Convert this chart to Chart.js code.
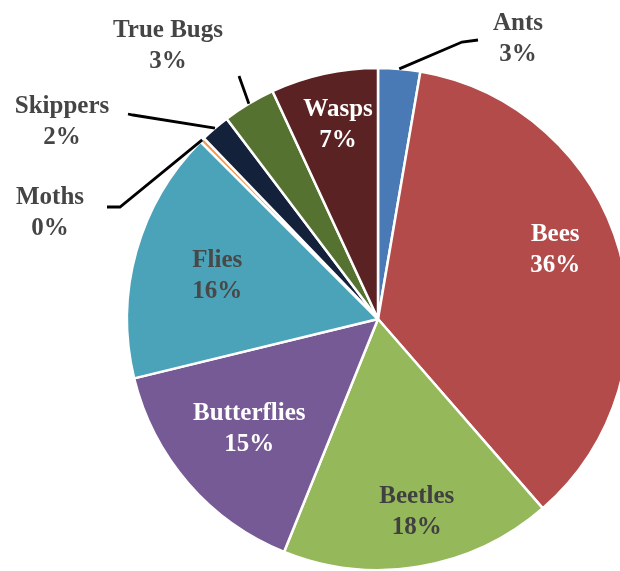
<!DOCTYPE html>
<html>
<head>
<meta charset="utf-8">
<title>Pollinator visits</title>
<script src="https://cdn.jsdelivr.net/npm/chart.js@4.4.1/dist/chart.umd.min.js"></script>
<style>
  html, body { margin: 0; padding: 0; width: 620px; height: 571px; overflow: hidden; background: #fff; }
  /* pie is larger than the page, so the canvas overhangs it */
  #wrap { position: absolute; left: -2px; top: -61px; width: 760px; height: 760px; }
</style>
</head>
<body>
<div id="wrap"><canvas id="pieChart" width="760" height="760"></canvas></div>
<script>
// visit share per insect group (%)
const categories = ['Ants', 'Bees', 'Beetles', 'Butterflies', 'Flies', 'Moths', 'Skippers', 'True Bugs', 'Wasps'];
const shares = [2.7, 35.9, 17.5, 15.1, 16.3, 0.3, 1.9, 3.4, 6.9];

const sliceColors = ['#4a7ab5', '#b34b4b', '#95b85a', '#765a95', '#4aa3b8', '#f79646', '#14213a', '#557230', '#5a2222'];
const labelColors = ['#454545', '#ffffff', '#404040', '#ffffff', '#484848', '#454545', '#454545', '#454545', '#ffffff'];

// labels inside a slice: fraction of the radius, and a small turn (deg) off the mid angle
const insideLabels = {
  'Bees':        { r: 0.757, turn: -5.5 },
  'Beetles':     { r: 0.785, turn: -1.8 },
  'Butterflies': { r: 0.675, turn: 0.3 },
  'Flies':       { r: 0.663, turn: -0.7 },
  'Wasps':       { r: 0.79,  turn: 0.8 }
};

// callouts for thin slices, offsets from the pie centre
const outsideLabels = {
  'Ants':      { text: [140, -280],  elbow: [84, -277],   end: [100, -279] },
  'True Bugs': { text: [-210, -273], elbow: [-139, -243], end: [-139, -243] },
  'Skippers':  { text: [-316, -197], elbow: [-245, -204], end: [-250, -205] },
  'Moths':     { text: [-328, -106], elbow: [-258, -112], end: [-271, -112] }
};

const sliceLabels = {
  id: 'sliceLabels',
  afterDatasetsDraw(chart) {
    const ctx = chart.ctx;
    const meta = chart.getDatasetMeta(0);
    const total = shares.reduce((a, b) => a + b, 0);
    ctx.save();
    ctx.font = 'bold 25px "Liberation Serif", "Times New Roman", serif';
    ctx.textAlign = 'center';
    ctx.textBaseline = 'middle';
    meta.data.forEach((arc, i) => {
      const p = arc.getProps(['x', 'y', 'startAngle', 'endAngle', 'outerRadius'], true);
      const mid = (p.startAngle + p.endAngle) / 2;
      const name = categories[i];
      const pct = Math.round(shares[i] / total * 100) + '%';
      let cx, cy;
      const out = outsideLabels[name];
      if (out) {
        // leader line from the rim to the label
        ctx.beginPath();
        ctx.moveTo(p.x + Math.cos(mid) * p.outerRadius, p.y + Math.sin(mid) * p.outerRadius);
        ctx.lineTo(p.x + out.elbow[0], p.y + out.elbow[1]);
        ctx.lineTo(p.x + out.end[0], p.y + out.end[1]);
        ctx.strokeStyle = '#000';
        ctx.lineWidth = 2.8;
        ctx.stroke();
        cx = p.x + out.text[0];
        cy = p.y + out.text[1];
      } else {
        const lab = insideLabels[name];
        const a = mid + lab.turn * Math.PI / 180;
        cx = p.x + Math.cos(a) * p.outerRadius * lab.r;
        cy = p.y + Math.sin(a) * p.outerRadius * lab.r;
      }
      ctx.fillStyle = labelColors[i];
      ctx.fillText(name, cx, cy - 15.5);
      ctx.fillText(pct, cx, cy + 15.5);
    });
    ctx.restore();
  }
};

const ctx = document.getElementById('pieChart').getContext('2d');
new Chart(ctx, {
  type: 'pie',
  data: {
    labels: categories,
    datasets: [{
      data: shares,
      backgroundColor: sliceColors,
      borderColor: '#ffffff',
      borderWidth: 2.5,
      hoverOffset: 0
    }]
  },
  options: {
    responsive: false,
    animation: false,
    events: [],
    radius: 251,
    plugins: {
      legend: { display: false },
      tooltip: { enabled: false }
    }
  },
  plugins: [sliceLabels]
});
</script>
</body>
</html>
